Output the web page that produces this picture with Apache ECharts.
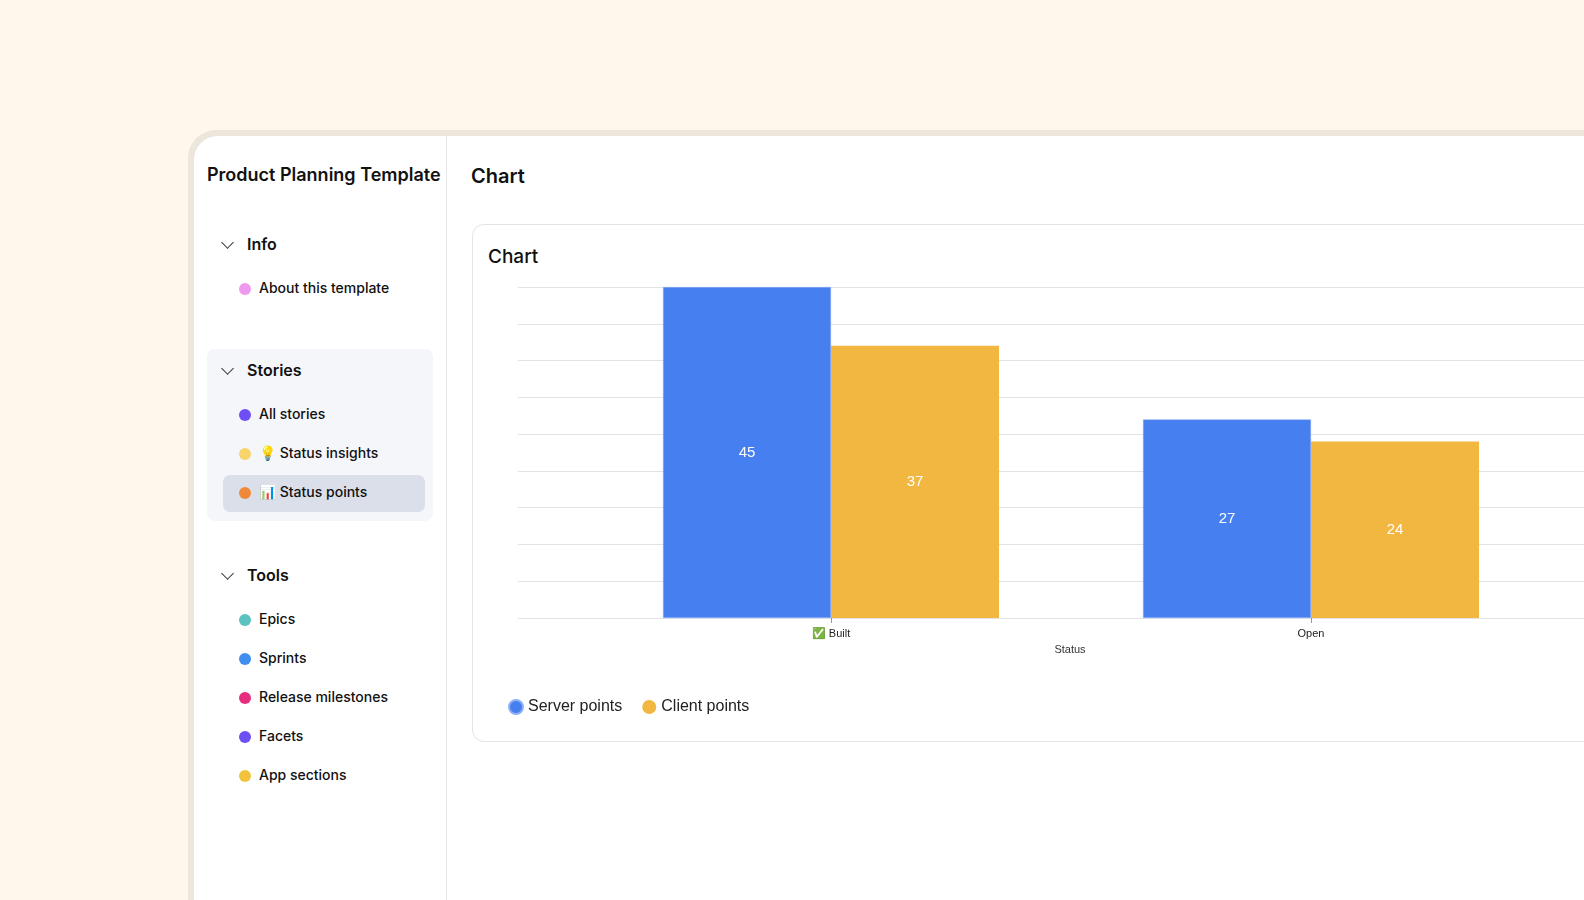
<!DOCTYPE html>
<html><head><meta charset="utf-8">
<script src="https://cdn.jsdelivr.net/npm/echarts@6/dist/echarts.min.js"></script>
<style>
body{margin:0;width:1584px;height:900px;background:#fff7eb;overflow:hidden;font-family:Inter,"Noto Sans",sans-serif;color:#111;position:relative}
#frame{position:absolute;left:188px;top:130px;width:1500px;height:900px;background:#ece6dc;border-radius:28px}
#app{position:absolute;left:194px;top:136px;width:1500px;height:900px;background:#fff;border-top-left-radius:24px}
#side{position:absolute;left:194px;top:136px;width:252px;height:780px;border-right:1px solid #e8e8ec}
.t{position:absolute;white-space:nowrap}
.dot{position:absolute;width:12px;height:12px;border-radius:6px}
.chev{position:absolute;width:8px;height:8px;border-right:1.5px solid #333;border-bottom:1.5px solid #333;transform:rotate(45deg)}
#card{position:absolute;left:472px;top:224px;width:1200px;height:516px;border:1px solid #e3e3e8;border-radius:12px;background:#fff}
#chart{position:absolute;left:0;top:0;width:1700px;height:900px}
</style></head><body>
<div id="frame"></div><div id="app"></div><div id="side"></div>
<div class="t" style="left:207px;top:164px;font-size:18px;font-weight:600">Product Planning Template</div>
<div class="chev" style="left:223px;top:238px"></div><div class="t" style="left:247px;top:234px;font-size:16px;font-weight:600">Info</div>
<div class="dot" style="left:239px;top:283px;background:#ee99ee"></div><div class="t" style="left:259px;top:279px;font-size:14px;font-weight:500">About this template</div>
<div style="position:absolute;left:207px;top:349px;width:226px;height:172px;background:#f5f6fa;border-radius:8px"></div>
<div style="position:absolute;left:223px;top:475px;width:202px;height:37px;background:#dadfea;border-radius:7px"></div>
<div class="chev" style="left:223px;top:364px"></div><div class="t" style="left:247px;top:360px;font-size:16px;font-weight:600">Stories</div>
<div class="dot" style="left:239px;top:409px;background:#6e4ff5"></div><div class="t" style="left:259px;top:405px;font-size:14px;font-weight:500">All stories</div>
<div class="dot" style="left:239px;top:448px;background:#f7d56a"></div><div class="t" style="left:259px;top:444px;font-size:14px;font-weight:500">💡 Status insights</div>
<div class="dot" style="left:239px;top:487px;background:#f08a3a"></div><div class="t" style="left:259px;top:483px;font-size:14px;font-weight:500">📊 Status points</div>
<div class="chev" style="left:223px;top:569px"></div><div class="t" style="left:247px;top:565px;font-size:16px;font-weight:600">Tools</div>
<div class="dot" style="left:239px;top:614px;background:#5cc2c0"></div><div class="t" style="left:259px;top:610px;font-size:14px;font-weight:500">Epics</div>
<div class="dot" style="left:239px;top:653px;background:#3f8ef0"></div><div class="t" style="left:259px;top:649px;font-size:14px;font-weight:500">Sprints</div>
<div class="dot" style="left:239px;top:692px;background:#e62e80"></div><div class="t" style="left:259px;top:688px;font-size:14px;font-weight:500">Release milestones</div>
<div class="dot" style="left:239px;top:731px;background:#6e4ff5"></div><div class="t" style="left:259px;top:727px;font-size:14px;font-weight:500">Facets</div>
<div class="dot" style="left:239px;top:770px;background:#f2c23a"></div><div class="t" style="left:259px;top:766px;font-size:14px;font-weight:500">App sections</div>
<div class="t" style="left:471px;top:164px;font-size:20px;font-weight:600">Chart</div>
<div id="card"></div>
<div class="t" style="left:488px;top:245px;font-size:19px;font-weight:500">Chart</div>
<div id="chart"></div>
<script>
const categories=["✅ Built","Open"];
const serverPoints=[45,27];
const clientPoints=[37,24];
const yMax=45, yInterval=5;
const c=echarts.init(document.getElementById('chart'));
const lbl={show:true,position:'inside',color:'#fff',fontSize:15};
c.setOption({
 animation:false,
 grid:[{left:518,top:287,width:1104,height:331},{left:591,top:287,width:960,height:331}],
 xAxis:[{type:'category',gridIndex:0,data:[''],axisLine:{show:false},axisTick:{show:false},axisLabel:{show:false},
   name:'Status',nameLocation:'middle',nameGap:26,nameTextStyle:{fontSize:11,color:'#333'}},
  {type:'category',gridIndex:1,data:categories,axisLine:{show:false},axisTick:{show:true,alignWithLabel:true,length:5,lineStyle:{color:'#999'}},axisLabel:{fontSize:11,color:'#222',margin:10}}],
 yAxis:[{type:'value',gridIndex:0,min:0,max:yMax,interval:yInterval,axisLabel:{show:false},splitLine:{lineStyle:{color:'#e3e3e6'}}},
  {type:'value',gridIndex:1,min:0,max:yMax,interval:yInterval,axisLabel:{show:false},splitLine:{show:false}}],
 legend:{left:503,top:694,icon:'circle',itemWidth:14,itemHeight:14,itemGap:20,textStyle:{fontSize:16,color:'#222'}},
 series:[
  {name:'Server points',type:'bar',xAxisIndex:1,yAxisIndex:1,data:serverPoints,barGap:'0%',barCategoryGap:'30%',itemStyle:{color:'#467ff0',borderColor:'#8fb0f5',borderWidth:0.5},label:lbl},
  {name:'Client points',type:'bar',xAxisIndex:1,yAxisIndex:1,data:clientPoints,itemStyle:{color:'#f2b740'},label:lbl}
 ]
});
</script></body></html>
